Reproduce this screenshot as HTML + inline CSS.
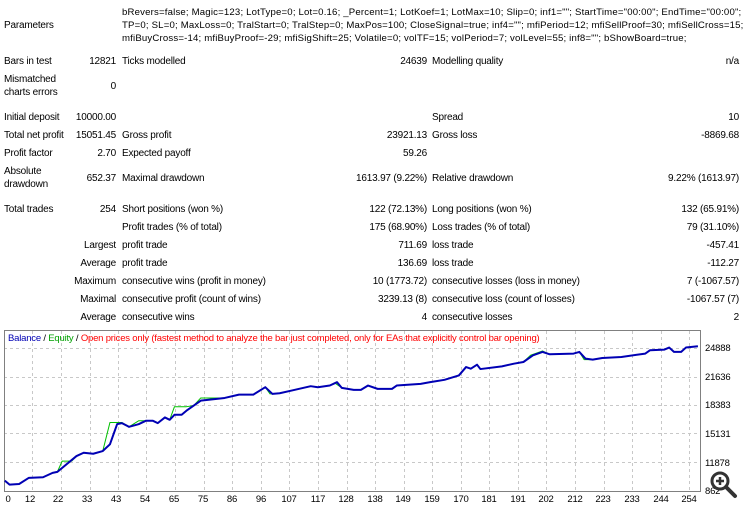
<!DOCTYPE html>
<html><head><meta charset="utf-8"><style>
body{margin:0;width:750px;height:511px;background:#fff;overflow:hidden;font-family:"Liberation Sans",sans-serif;font-size:10px;letter-spacing:-0.2px;color:#000;position:relative}
.t{position:absolute;white-space:nowrap;line-height:13px}
.r{text-align:right}
</style></head><body>
<div class="t" style="left:4px;top:19px">Parameters</div>
<div class="t" style="left:122px;top:6px;line-height:13px;font-size:9.6px;letter-spacing:0.18px">bRevers=false; Magic=123; LotType=0; Lot=0.16; _Percent=1; LotKoef=1; LotMax=10; Slip=0; inf1=""; StartTime="00:00"; EndTime="00:00";<br>TP=0; SL=0; MaxLoss=0; TralStart=0; TralStep=0; MaxPos=100; CloseSignal=true; inf4=""; mfiPeriod=12; mfiSellProof=30; mfiSellCross=15;<br>mfiBuyCross=-14; mfiBuyProof=-29; mfiSigShift=25; Volatile=0; volTF=15; volPeriod=7; volLevel=55; inf8=""; bShowBoard=true;</div>

<div class="t" style="left:4px;top:55px">Bars in test</div><div class="t r" style="right:634px;top:55px">12821</div>
<div class="t" style="left:122px;top:55px">Ticks modelled</div><div class="t r" style="right:323px;top:55px">24639</div>
<div class="t" style="left:432px;top:55px">Modelling quality</div><div class="t r" style="right:11px;top:55px">n/a</div>

<div class="t" style="left:4px;top:73px">Mismatched<br>charts errors</div><div class="t r" style="right:634px;top:80px">0</div>

<div class="t" style="left:4px;top:111px">Initial deposit</div><div class="t r" style="right:634px;top:111px">10000.00</div>
<div class="t" style="left:432px;top:111px">Spread</div><div class="t r" style="right:11px;top:111px">10</div>

<div class="t" style="left:4px;top:129px">Total net profit</div><div class="t r" style="right:634px;top:129px">15051.45</div>
<div class="t" style="left:122px;top:129px">Gross profit</div><div class="t r" style="right:323px;top:129px">23921.13</div>
<div class="t" style="left:432px;top:129px">Gross loss</div><div class="t r" style="right:11px;top:129px">-8869.68</div>

<div class="t" style="left:4px;top:147px">Profit factor</div><div class="t r" style="right:634px;top:147px">2.70</div>
<div class="t" style="left:122px;top:147px">Expected payoff</div><div class="t r" style="right:323px;top:147px">59.26</div>

<div class="t" style="left:4px;top:165px">Absolute<br>drawdown</div><div class="t r" style="right:634px;top:172px">652.37</div>
<div class="t" style="left:122px;top:172px">Maximal drawdown</div><div class="t r" style="right:323px;top:172px">1613.97 (9.22%)</div>
<div class="t" style="left:432px;top:172px">Relative drawdown</div><div class="t r" style="right:11px;top:172px">9.22% (1613.97)</div>

<div class="t" style="left:4px;top:203px">Total trades</div><div class="t r" style="right:634px;top:203px">254</div>
<div class="t" style="left:122px;top:203px">Short positions (won %)</div><div class="t r" style="right:323px;top:203px">122 (72.13%)</div>
<div class="t" style="left:432px;top:203px">Long positions (won %)</div><div class="t r" style="right:11px;top:203px">132 (65.91%)</div>

<div class="t" style="left:122px;top:221px">Profit trades (% of total)</div><div class="t r" style="right:323px;top:221px">175 (68.90%)</div>
<div class="t" style="left:432px;top:221px">Loss trades (% of total)</div><div class="t r" style="right:11px;top:221px">79 (31.10%)</div>

<div class="t r" style="right:634px;top:239px">Largest</div>
<div class="t" style="left:122px;top:239px">profit trade</div><div class="t r" style="right:323px;top:239px">711.69</div>
<div class="t" style="left:432px;top:239px">loss trade</div><div class="t r" style="right:11px;top:239px">-457.41</div>

<div class="t r" style="right:634px;top:257px">Average</div>
<div class="t" style="left:122px;top:257px">profit trade</div><div class="t r" style="right:323px;top:257px">136.69</div>
<div class="t" style="left:432px;top:257px">loss trade</div><div class="t r" style="right:11px;top:257px">-112.27</div>

<div class="t r" style="right:634px;top:275px">Maximum</div>
<div class="t" style="left:122px;top:275px">consecutive wins (profit in money)</div><div class="t r" style="right:323px;top:275px">10 (1773.72)</div>
<div class="t" style="left:432px;top:275px">consecutive losses (loss in money)</div><div class="t r" style="right:11px;top:275px">7 (-1067.57)</div>

<div class="t r" style="right:634px;top:293px">Maximal</div>
<div class="t" style="left:122px;top:293px">consecutive profit (count of wins)</div><div class="t r" style="right:323px;top:293px">3239.13 (8)</div>
<div class="t" style="left:432px;top:293px">consecutive loss (count of losses)</div><div class="t r" style="right:11px;top:293px">-1067.57 (7)</div>

<div class="t r" style="right:634px;top:311px">Average</div>
<div class="t" style="left:122px;top:311px">consecutive wins</div><div class="t r" style="right:323px;top:311px">4</div>
<div class="t" style="left:432px;top:311px">consecutive losses</div><div class="t r" style="right:11px;top:311px">2</div>

<svg style="position:absolute;left:0;top:0" width="750" height="511" font-family="Liberation Sans, sans-serif" font-size="10">
<g stroke="#c8c8c8" stroke-dasharray="3,3" stroke-width="1">
<line x1="4" x2="700" y1="348.5" y2="348.5"/><line x1="4" x2="700" y1="377.5" y2="377.5"/><line x1="4" x2="700" y1="405.5" y2="405.5"/><line x1="4" x2="700" y1="433.5" y2="433.5"/><line x1="4" x2="700" y1="462.5" y2="462.5"/>
<line x1="32.5" x2="32.5" y1="331" y2="491"/><line x1="61.5" x2="61.5" y1="331" y2="491"/><line x1="90.5" x2="90.5" y1="331" y2="491"/><line x1="118.5" x2="118.5" y1="331" y2="491"/><line x1="146.5" x2="146.5" y1="331" y2="491"/><line x1="175.5" x2="175.5" y1="331" y2="491"/><line x1="204.5" x2="204.5" y1="331" y2="491"/><line x1="232.5" x2="232.5" y1="331" y2="491"/><line x1="261.5" x2="261.5" y1="331" y2="491"/><line x1="289.5" x2="289.5" y1="331" y2="491"/><line x1="318.5" x2="318.5" y1="331" y2="491"/><line x1="347.5" x2="347.5" y1="331" y2="491"/><line x1="375.5" x2="375.5" y1="331" y2="491"/><line x1="404.5" x2="404.5" y1="331" y2="491"/><line x1="432.5" x2="432.5" y1="331" y2="491"/><line x1="461.5" x2="461.5" y1="331" y2="491"/><line x1="489.5" x2="489.5" y1="331" y2="491"/><line x1="518.5" x2="518.5" y1="331" y2="491"/><line x1="546.5" x2="546.5" y1="331" y2="491"/><line x1="575.5" x2="575.5" y1="331" y2="491"/><line x1="604.5" x2="604.5" y1="331" y2="491"/><line x1="632.5" x2="632.5" y1="331" y2="491"/><line x1="661.5" x2="661.5" y1="331" y2="491"/><line x1="689.5" x2="689.5" y1="331" y2="491"/>
</g>
<rect x="4.5" y="330.5" width="696" height="161" fill="none" stroke="#808080"/>
<g transform="translate(0,320) scale(0.478,0.336)" fill="none" stroke-linejoin="round">
<polyline vector-effect="non-scaling-stroke" stroke="#00c000" stroke-width="1" points="10,478 20,490 40,488 60,470 90,468 110,455 120,452 130,420 150,420 160,405 175,395 195,398 215,390 230,305 255,305 270,318 290,300 320,300 330,307 345,290 355,297 365,258 390,258 405,255 420,232 470,232 500,222 530,222 545,210 555,200 565,220 585,218 610,210 650,197 665,200 690,195 700,187 715,202 740,208 755,208 770,195 790,205 820,205 830,195 880,190 900,185 930,178 960,165 975,140 985,145 998,133 1005,146 1050,138 1075,130 1095,125 1110,105 1135,92 1150,102 1200,100 1212,95 1222,118 1240,118 1260,113 1300,110 1350,100 1360,90 1390,88 1400,82 1410,95 1425,95 1435,82 1460,78"/>
<polyline vector-effect="non-scaling-stroke" stroke="#0000b4" stroke-width="2" points="10,478 20,490 40,488 60,470 90,468 110,455 120,452 160,405 175,395 195,398 215,390 230,370 245,310 255,307 270,318 290,310 305,300 320,300 330,307 345,290 355,297 365,282 380,282 390,270 405,255 420,240 470,232 500,222 530,222 555,200 570,220 585,218 610,210 650,197 665,200 690,195 705,185 715,202 740,208 755,208 770,195 790,205 820,205 830,195 880,190 900,185 930,178 960,165 975,140 985,145 998,133 1005,146 1050,138 1075,130 1095,125 1115,105 1135,95 1150,102 1200,100 1212,95 1225,115 1240,118 1260,113 1300,110 1350,100 1360,90 1390,88 1400,82 1410,95 1425,95 1435,82 1460,78"/>
</g>
<text x="8" y="341" font-size="9.5" letter-spacing="-0.2"><tspan fill="#0000b4">Balance</tspan><tspan fill="#000"> / </tspan><tspan fill="#00a000">Equity</tspan><tspan fill="#000"> / </tspan><tspan fill="#ff0000">Open prices only (fastest method to analyze the bar just completed, only for EAs that explicitly control bar opening)</tspan></text>
<g fill="#000" font-size="9.5">
<text x="705" y="351">24888</text><text x="705" y="380">21636</text><text x="705" y="408">18383</text><text x="705" y="437">15131</text><text x="705" y="466">11878</text><text x="705" y="494">862</text>
</g>
<g fill="#000" font-size="9.5" text-anchor="middle">
<text x="8" y="502">0</text><text x="30" y="502">12</text><text x="58" y="502">22</text><text x="87" y="502">33</text><text x="116" y="502">43</text><text x="145" y="502">54</text><text x="174" y="502">65</text><text x="203" y="502">75</text><text x="232" y="502">86</text><text x="261" y="502">96</text><text x="289" y="502">107</text><text x="318" y="502">117</text><text x="346" y="502">128</text><text x="375" y="502">138</text><text x="403" y="502">149</text><text x="432" y="502">159</text><text x="461" y="502">170</text><text x="489" y="502">181</text><text x="518" y="502">191</text><text x="546" y="502">202</text><text x="575" y="502">212</text><text x="603" y="502">223</text><text x="632" y="502">233</text><text x="661" y="502">244</text><text x="689" y="502">254</text>
</g>
<g stroke="#333" fill="#fff">
<circle cx="720" cy="481" r="8" stroke-width="3"/>
<line x1="726" y1="487" x2="735" y2="496" stroke-width="4" stroke-linecap="round"/>
<line x1="716" y1="481" x2="724" y2="481" stroke-width="2.5"/><line x1="720" y1="477" x2="720" y2="485" stroke-width="2.5"/>
</g>
</svg>
</body></html>
